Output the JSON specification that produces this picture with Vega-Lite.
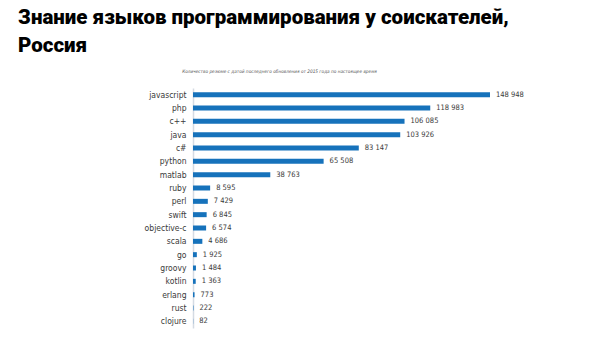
{
  "$schema": "https://vega.github.io/schema/vega-lite/v6.json",
  "autosize": {"type": "none"},
  "width": 297,
  "height": 240,
  "padding": {"left": 193, "top": 88, "right": 126, "bottom": 30},
  "background": "white",
  "config": {
    "view": {"stroke": null},
    "locale": {"number": {"decimal": ",", "thousands": "\u00a0", "grouping": [3], "currency": ["", ""]}}
  },
  "title": {
    "text": ["Знание языков программирования у соискателей,", "Россия"],
    "anchor": "start",
    "frame": "group",
    "dx": -175,
    "dy": -8,
    "fontSize": 20.5,
    "font": "Roboto",
    "fontWeight": 900,
    "color": "#000000",
    "lineHeight": 28,
    "offset": 4
  },
  "data": {"values": [
    {"lang": "javascript", "count": 148948},
    {"lang": "php", "count": 118983},
    {"lang": "c++", "count": 106085},
    {"lang": "java", "count": 103926},
    {"lang": "c#", "count": 83147},
    {"lang": "python", "count": 65508},
    {"lang": "matlab", "count": 38763},
    {"lang": "ruby", "count": 8595},
    {"lang": "perl", "count": 7429},
    {"lang": "swift", "count": 6845},
    {"lang": "objective-c", "count": 6574},
    {"lang": "scala", "count": 4686},
    {"lang": "go", "count": 1925},
    {"lang": "groovy", "count": 1484},
    {"lang": "kotlin", "count": 1363},
    {"lang": "erlang", "count": 773},
    {"lang": "rust", "count": 222},
    {"lang": "clojure", "count": 82}
  ]},
  "encoding": {
    "y": {
      "field": "lang", "type": "nominal", "sort": "-x",
      "axis": {
        "title": null, "ticks": false, "domain": true, "domainColor": "#d5dbe3", "domainWidth": 1.5,
        "labelPadding": 7, "labelFontSize": 8.5, "labelColor": "#3a3a3a", "labelFont": "DejaVu Sans Condensed"
      }
    },
    "x": {
      "field": "count", "type": "quantitative",
      "scale": {"domain": [0, 148948], "nice": false, "zero": true},
      "axis": {
        "orient": "top", "labels": false, "ticks": false, "domain": false, "grid": false,
        "title": "Количество резюме с датой последнего обновления от 2015 года по настоящее время",
        "titleFont": "DejaVu Sans Condensed", "titleFontSize": 4.7, "titleFontStyle": "italic", "titleFontWeight": "normal",
        "titleColor": "#555555", "titleX": 86, "titleAlign": "center", "titlePadding": 15
      }
    }
  },
  "layer": [
    {"mark": {"type": "bar", "size": 5, "color": "#1672bb"}},
    {
      "mark": {"type": "text", "align": "left", "baseline": "middle", "dx": 6, "fontSize": 7.5, "color": "#3a3a3a", "font": "DejaVu Sans Condensed"},
      "encoding": {"text": {"field": "count", "type": "quantitative", "format": ",d"}}
    }
  ]
}
